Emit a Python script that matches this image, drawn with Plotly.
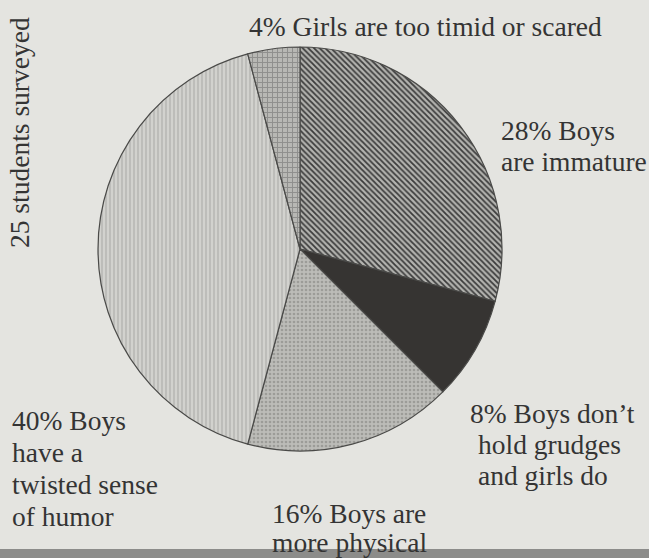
import plotly.graph_objects as go

# Survey results: why girls and boys are friends differently
labels = [
    "Boys are immature",
    "Boys don't hold grudges and girls do",
    "Boys are more physical",
    "Boys have a twisted sense of humor",
    "Girls are too timid or scared",
]
percents = [28, 8, 16, 40, 4]
label_lines = [
    ["28% Boys", "are immature"],
    ["8% Boys don’t", "hold grudges", "and girls do"],
    ["16% Boys are", "more physical"],
    ["40% Boys", "have a", "twisted sense", "of humor"],
    ["4% Girls are too timid or scared"],
]
side_note = "25 students surveyed"

W, H = 649, 558
BG = "#e4e4e0"
INK = "#343434"
FONT = "Liberation Serif"
FSIZE = 27.5

patterns = [
    dict(shape="\\", fgcolor="#3c3c3c", bgcolor="#b4b4b0", size=4, solidity=0.45),
    dict(shape="", fgcolor="#363432", bgcolor="#363432"),
    dict(shape=".", fgcolor="#9c9c98", bgcolor="#bcbcb8", size=4, solidity=0.35),
    dict(shape="|", fgcolor="#b0b0ac", bgcolor="#d2d2ce", size=4, solidity=0.3),
    dict(shape="+", fgcolor="#8e8e8c", bgcolor="#b8b8b4", size=5, solidity=0.35),
]
fills = ["#6e6e6c", "#363432", "#b0b0ac", "#c6c6c2", "#a6a6a2"]

# circle centre and radius in pixels
cx, cy, r = 300, 249, 202

fig = go.Figure(
    go.Pie(
        labels=labels,
        values=percents,
        sort=False,
        direction="clockwise",
        rotation=0,
        textinfo="none",
        hoverinfo="label+percent",
        showlegend=False,
        marker=dict(
            colors=fills,
            pattern=dict(
                shape=[p["shape"] for p in patterns],
                fgcolor=[p["fgcolor"] for p in patterns],
                bgcolor=[p["bgcolor"] for p in patterns],
                size=[p.get("size", 5) for p in patterns],
                solidity=[p.get("solidity", 0.5) for p in patterns],
                fillmode="replace",
            ),
            line=dict(color="#4a4a48", width=1.2),
        ),
        domain=dict(
            x=[(cx - r) / W, (cx + r) / W],
            y=[(H - cy - r) / H, (H - cy + r) / H],
        ),
    )
)

# label anchors: (left x, first line centre y, line gap) in pixels
anchors = [(499, 131, 30), (468, 413, 31), (270, 513, 29), (10, 420, 32), (247, 27, 30)]
annotations = []
for lines, (ax, ay, gap) in zip(label_lines, anchors):
    for i, t in enumerate(lines):
        x0 = ax
        if lines is label_lines[1] and i > 0:
            x0 = ax + 8
        annotations.append(
            dict(
                text=t, x=x0 / W, y=1 - (ay + i * gap) / H,
                xref="paper", yref="paper", xanchor="left", yanchor="middle",
                showarrow=False, font=dict(family=FONT, size=FSIZE, color=INK),
            )
        )
annotations.append(
    dict(
        text=side_note, x=20 / W, y=1 - 133 / H, xref="paper", yref="paper",
        xanchor="center", yanchor="middle", textangle=-90, showarrow=False,
        font=dict(family=FONT, size=FSIZE, color=INK),
    )
)

fig.update_layout(
    width=W, height=H,
    margin=dict(l=0, r=0, t=0, b=0),
    paper_bgcolor=BG, plot_bgcolor=BG,
    annotations=annotations,
    shapes=[
        dict(type="rect", xref="paper", yref="paper", x0=0, x1=1,
             y0=0, y1=9 / H, fillcolor="#8c8c8a", line=dict(width=0), layer="below"),
    ],
)

fig.write_html("out.html")
